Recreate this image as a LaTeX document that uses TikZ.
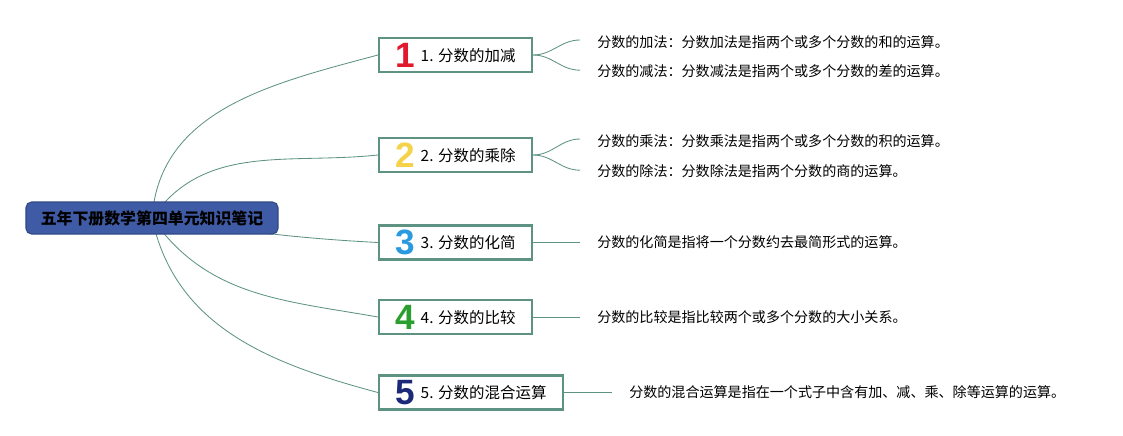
\documentclass[tikz,border=0pt]{standalone}
\usepackage{fontspec}
\usepackage{xcolor}
\usepackage{tikz}
\usetikzlibrary{positioning, backgrounds}
\setmainfont{Noto Sans CJK SC}
\newfontfamily\numfont{Liberation Sans}
\definecolor{mapteal}{HTML}{5E9384}
\definecolor{mapblue}{HTML}{3F5BA5}
\definecolor{numred}{HTML}{E01A2C}
\definecolor{numyellow}{HTML}{F4D24A}
\definecolor{numblue}{HTML}{2A9AE0}
\definecolor{numgreen}{HTML}{2A9E2E}
\definecolor{numnavy}{HTML}{1C2878}
\newcommand{\bignum}[2]{\raisebox{-4pt}{\numfont\bfseries\fontsize{25}{25}\selectfont\color{#1}#2}\hspace{4pt}}

\begin{document}
\begin{tikzpicture}[
    x=0.025cm, y=-0.025cm,
    root/.style={draw=mapblue!80!black, fill=mapblue, rounded corners=4pt, line width=0.8pt,
        minimum width=6.3cm, minimum height=0.8cm, font=\fontsize{11.3}{12}\selectfont\bfseries},
    topic/.style={draw=mapteal, line width=1.5pt, fill=white, minimum width=3.825cm,
        minimum height=0.85cm, inner sep=0pt, font=\fontsize{11}{12}\selectfont},
    leaf/.style={anchor=west, inner sep=0pt, font=\fontsize{10}{11}\selectfont},
    link/.style={draw=mapteal, line width=0.6pt},
]
    \useasboundingbox (0,0) rectangle (1123,435);

    % Root
    \node[root] (root) at (152,218) {五年下册数学第四单元知识笔记};

    % Topics
    \node[topic] (t1) at (455.5,55) {\bignum{numred}{1}1. 分数的加减};
    \node[topic] (t2) at (455.5,155) {\bignum{numyellow}{2}2. 分数的乘除};
    \node[topic] (t3) at (455.5,242.5) {\bignum{numblue}{3}3. 分数的化简};
    \node[topic] (t4) at (455.5,317) {\bignum{numgreen}{4}4. 分数的比较};
    \node[topic, minimum width=4.6cm] (t5) at (471,392.5) {\bignum{numnavy}{5}5. 分数的混合运算};

    % Leaves
    \node[leaf] (l11) at (597,42) {分数的加法：分数加法是指两个或多个分数的和的运算。};
    \node[leaf] (l12) at (597,71) {分数的减法：分数减法是指两个或多个分数的差的运算。};
    \node[leaf] (l21) at (597,141) {分数的乘法：分数乘法是指两个或多个分数的积的运算。};
    \node[leaf] (l22) at (597,171) {分数的除法：分数除法是指两个分数的商的运算。};
    \node[leaf] (l3) at (597,242.5) {分数的化简是指将一个分数约去最简形式的运算。};
    \node[leaf] (l4) at (597,317) {分数的比较是指比较两个或多个分数的大小关系。};
    \node[leaf] (l5) at (629,392.5) {分数的混合运算是指在一个式子中含有加、减、乘、除等运算的运算。};

    % Root to topics
    \begin{scope}[on background layer]
        \draw[link] (root.center) to[out=86, in=195] (t1.west);
        \draw[link] (root.center) to[out=55, in=186] (t2.west);
        \draw[link] (root.center) to[out=-8, in=177] (t3.west);
        \draw[link] (root.center) to[out=-55, in=170] (t4.west);
        \draw[link] (root.center) to[out=-78, in=165] (t5.west);
    \end{scope}

    % Topics to leaves
    \draw[link] (t1.east) to[out=0, in=180] ([xshift=-0.425cm, yshift=0.05cm]l11.west);
    \draw[link] (t1.east) to[out=0, in=180] ([xshift=-0.425cm, yshift=0.02cm]l12.west);
    \draw[link] (t2.east) to[out=0, in=180] ([xshift=-0.425cm, yshift=0.05cm]l21.west);
    \draw[link] (t2.east) to[out=0, in=180] ([xshift=-0.425cm, yshift=0.02cm]l22.west);
    \draw[link] (t3.east) -- ([xshift=-0.425cm]l3.west);
    \draw[link] (t4.east) -- ([xshift=-0.425cm]l4.west);
    \draw[link] (t5.east) -- ([xshift=-0.425cm]l5.west);
\end{tikzpicture}
\end{document}
